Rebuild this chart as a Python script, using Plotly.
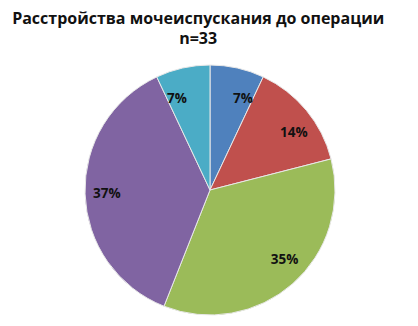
import plotly.graph_objects as go

categories = ["A", "B", "C", "D", "E"]
values = [7, 14, 35, 37, 7]
labels_text = ["7%", "14%", "35%", "37%", "7%"]
colors = ["#4F81BD", "#C0504D", "#9BBB59", "#8064A2", "#4BACC6"]
title_text = "Расстройства мочеиспускания до операции<br>n=33"

fig = go.Figure()
fig.add_trace(go.Pie(
    labels=categories,
    values=values,
    textinfo="none",
    sort=False,
    direction="clockwise",
    rotation=0,
    marker=dict(colors=colors, line=dict(color="#e8e8e8", width=1)),
    showlegend=False,
    hoverinfo="skip",
    domain=dict(x=[0, 1], y=[0, 1]),
))
# transparent inner pie used only to carry the percentage labels
fig.add_trace(go.Pie(
    labels=categories,
    values=values,
    text=labels_text,
    textinfo="text",
    textposition="outside",
    sort=False,
    direction="clockwise",
    rotation=0,
    marker=dict(colors=["rgba(0,0,0,0)"] * 5, line=dict(width=0)),
    textfont=dict(family="Open Sans", size=13.5, color="#111111", weight="bold"),
    showlegend=False,
    hoverinfo="skip",
    domain=dict(x=[0.16, 0.84], y=[0.16, 0.84]),
))

fig.update_layout(
    width=418, height=326,
    margin=dict(l=77, r=91, t=57, b=19),
    paper_bgcolor="white",
    plot_bgcolor="white",
    title=dict(text=title_text, x=0.455, xanchor="center", y=0.952, yanchor="top",
               font=dict(family="Open Sans", size=16, color="#111111", weight="bold")),
)

fig.write_html("out.html")
